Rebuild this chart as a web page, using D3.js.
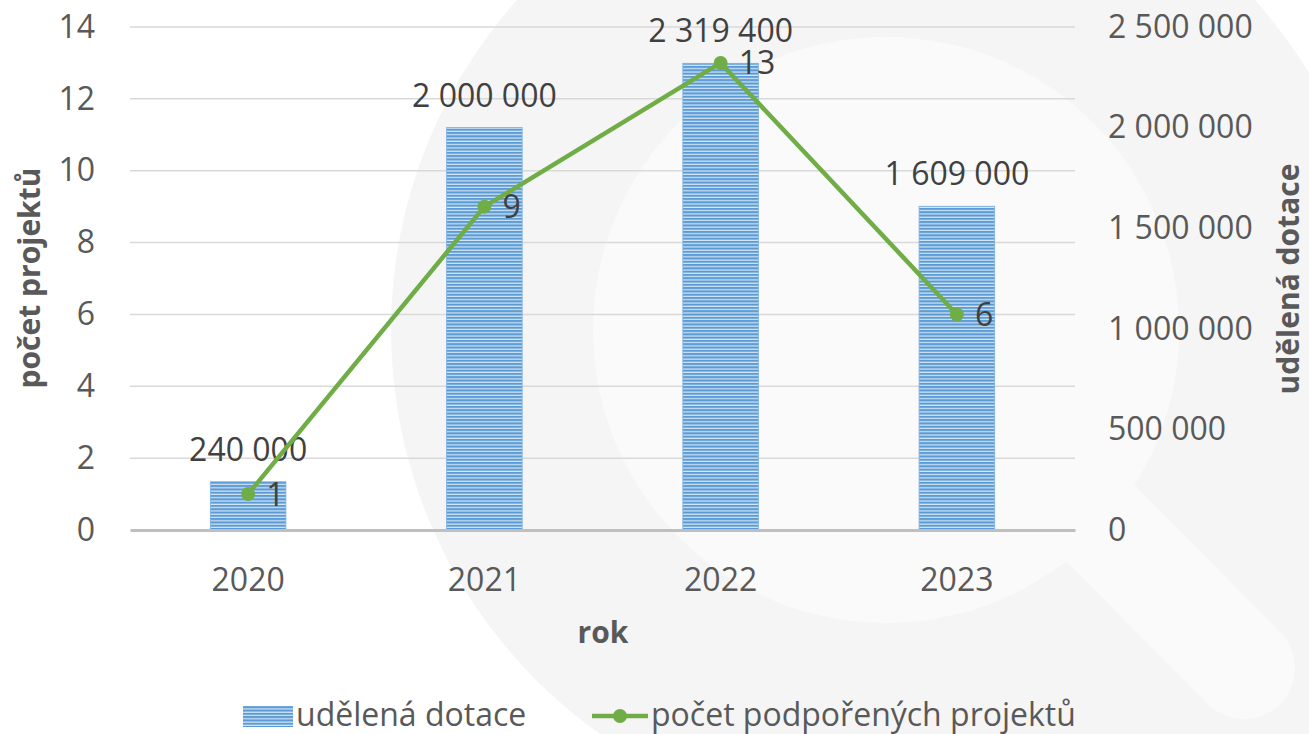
<!DOCTYPE html>
<html>
<head>
<meta charset="utf-8">
<script src="https://cdn.jsdelivr.net/npm/d3@7"></script>
<style>
  body { margin: 0; background: #fff; }
  svg text { font-family: "Open Sans", sans-serif; }
</style>
</head>
<body>
<svg id="chart" width="1309" height="734"></svg>
<script>
// data
var years = ["2020", "2021", "2022", "2023"];
var dotace = [240000, 2000000, 2319400, 1609000];
var projekty = [1, 9, 13, 6];
var leftTicks = [0, 2, 4, 6, 8, 10, 12, 14];
var rightTicks = [0, 500000, 1000000, 1500000, 2000000, 2500000];

var svg = d3.select("#chart");

var margin = {left: 130, right: 1075, top: 27, bottom: 530};

// watermark (magnifier) behind the chart
var wm = svg.append("g").attr("class", "watermark");
wm.append("line")
  .attr("x1", 886).attr("y1", 320)
  .attr("x2", 1400).attr("y2", 834)
  .attr("stroke", "#f5f5f5")
  .attr("stroke-width", 300)
  .attr("stroke-linecap", "round");
wm.append("circle").attr("cx", 886).attr("cy", 330).attr("r", 495).attr("fill", "#f5f5f5");
wm.append("line")
  .attr("x1", 1000).attr("y1", 422)
  .attr("x2", 1244).attr("y2", 668)
  .attr("stroke", "#fafafa")
  .attr("stroke-width", 102)
  .attr("stroke-linecap", "round");
wm.append("circle").attr("cx", 886).attr("cy", 330).attr("r", 293).attr("fill", "#fafafa");

var x = d3.scaleBand()
  .domain(years)
  .range([margin.left, margin.right])
  .paddingInner(0.68)
  .paddingOuter(0.34);

var yL = d3.scaleLinear().domain([0, 14]).range([margin.bottom, margin.top]);
var yR = d3.scaleLinear().domain([0, 2500000]).range([margin.bottom, margin.top]);

var fmt = function(v) {
  return d3.format(",")(v).replace(/,/g, " ");
};

// stripe pattern for the bars
var defs = svg.append("defs");
var pat = defs.append("pattern")
  .attr("id", "stripes")
  .attr("patternUnits", "userSpaceOnUse")
  .attr("width", 8).attr("height", 3.3);
pat.append("rect").attr("width", 8).attr("height", 3.3).attr("fill", "#d6e6f6");
pat.append("rect").attr("width", 8).attr("height", 2.1).attr("fill", "#5b9bd5");

// gridlines (left axis)
svg.append("g")
  .selectAll("line")
  .data(leftTicks.slice(1))
  .join("line")
  .attr("x1", margin.left).attr("x2", margin.right)
  .attr("y1", d => yL(d)).attr("y2", d => yL(d))
  .attr("stroke", "#d9d9d9")
  .attr("stroke-width", 1.5);

// left axis
var leftAxis = svg.append("g")
  .attr("transform", "translate(" + margin.left + ",0)")
  .call(d3.axisLeft(yL).tickValues(leftTicks).tickSize(0).tickPadding(35));
leftAxis.select(".domain").remove();
leftAxis.selectAll("text")
  .attr("fill", "#595959")
  .style("font-size", "32px");

// right axis
var rightAxis = svg.append("g")
  .attr("transform", "translate(" + margin.right + ",0)")
  .call(d3.axisRight(yR).tickValues(rightTicks).tickFormat(fmt).tickSize(0).tickPadding(33));
rightAxis.select(".domain").remove();
rightAxis.selectAll("text")
  .attr("fill", "#595959")
  .style("font-size", "32px");

// bars
svg.append("g")
  .selectAll("rect")
  .data(years)
  .join("rect")
  .attr("x", d => x(d))
  .attr("width", x.bandwidth())
  .attr("y", (d, i) => yR(dotace[i]))
  .attr("height", (d, i) => yR(0) - yR(dotace[i]))
  .attr("fill", "url(#stripes)")
  .attr("stroke", "#7fb1e0")
  .attr("stroke-width", 0.8);

// category axis
var bottomAxis = svg.append("g")
  .attr("transform", "translate(0," + margin.bottom + ")")
  .call(d3.axisBottom(x).tickSize(0).tickPadding(38));
bottomAxis.select(".domain")
  .attr("stroke", "#bfbfbf")
  .attr("stroke-width", 3);
bottomAxis.selectAll("text")
  .attr("fill", "#595959")
  .style("font-size", "32px");

// bar labels
svg.append("g")
  .selectAll("text")
  .data(years)
  .join("text")
  .attr("x", d => x(d) + x.bandwidth() / 2)
  .attr("y", (d, i) => yR(dotace[i]) - 21)
  .attr("text-anchor", "middle")
  .attr("fill", "#404040")
  .style("font-size", "32px")
  .text((d, i) => fmt(dotace[i]));

// line series
var cx = d => x(d) + x.bandwidth() / 2;
var line = d3.line()
  .x(d => cx(d))
  .y((d, i) => yL(projekty[i]));

svg.append("path")
  .datum(years)
  .attr("d", line)
  .attr("fill", "none")
  .attr("stroke", "#70ad47")
  .attr("stroke-width", 4.5)
  .attr("stroke-linejoin", "round");

svg.append("g")
  .selectAll("circle")
  .data(years)
  .join("circle")
  .attr("cx", cx)
  .attr("cy", (d, i) => yL(projekty[i]))
  .attr("r", 7)
  .attr("fill", "#70ad47");

svg.append("g")
  .selectAll("text")
  .data(years)
  .join("text")
  .attr("x", d => cx(d) + 18)
  .attr("y", (d, i) => yL(projekty[i]))
  .attr("dy", "0.36em")
  .attr("fill", "#404040")
  .style("font-size", "32px")
  .text((d, i) => projekty[i]);

// axis titles
svg.append("text")
  .attr("transform", "translate(40,278) rotate(-90)")
  .attr("text-anchor", "middle")
  .attr("fill", "#595959")
  .style("font-size", "30px")
  .style("font-weight", "bold")
  .text("počet projektů");

svg.append("text")
  .attr("transform", "translate(1299,279) rotate(-90)")
  .attr("text-anchor", "middle")
  .attr("fill", "#595959")
  .style("font-size", "30px")
  .style("font-weight", "bold")
  .text("udělená dotace");

svg.append("text")
  .attr("x", 603).attr("y", 643)
  .attr("text-anchor", "middle")
  .attr("fill", "#595959")
  .style("font-size", "30px")
  .style("font-weight", "bold")
  .text("rok");

// legend
var legend = svg.append("g");
legend.append("rect")
  .attr("x", 243).attr("y", 706)
  .attr("width", 50).attr("height", 21)
  .attr("fill", "url(#stripes)");
legend.append("text")
  .attr("x", 296).attr("y", 726)
  .attr("fill", "#595959")
  .style("font-size", "32px")
  .text("udělená dotace");
legend.append("line")
  .attr("x1", 592).attr("x2", 648)
  .attr("y1", 716).attr("y2", 716)
  .attr("stroke", "#70ad47")
  .attr("stroke-width", 4.5);
legend.append("circle")
  .attr("cx", 620).attr("cy", 716).attr("r", 7)
  .attr("fill", "#70ad47");
legend.append("text")
  .attr("x", 651).attr("y", 726)
  .attr("fill", "#595959")
  .style("font-size", "32px")
  .text("počet podpořených projektů");
</script>
</body>
</html>
